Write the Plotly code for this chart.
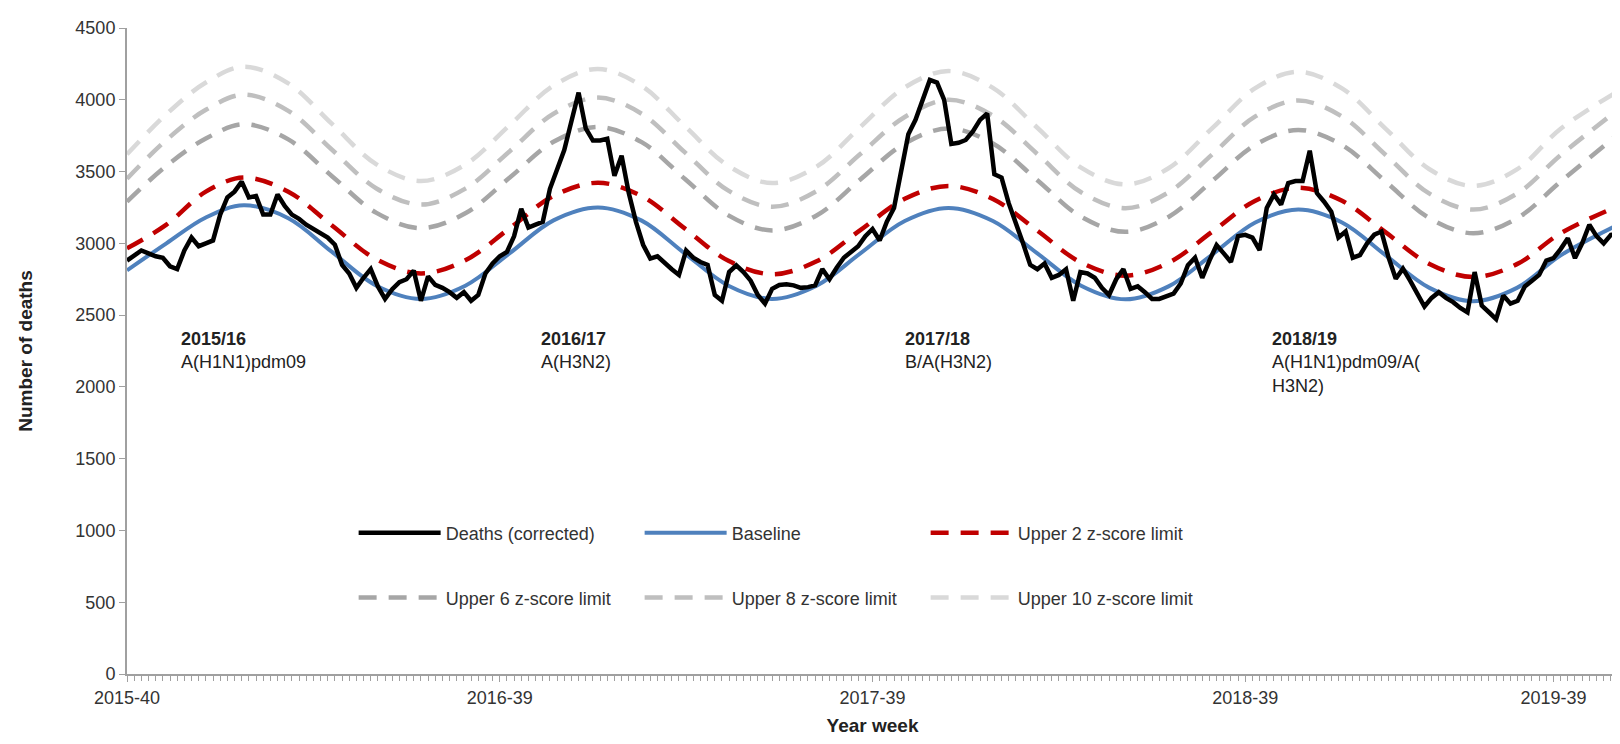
import plotly.graph_objects as go

# weekly deaths, week index 0 = 2015-40
deaths = [
    2880, 2920, 2950, 2930, 2910, 2900, 2840, 2820, 2950, 3040,
    2980, 3000, 3020, 3200, 3320, 3360, 3430, 3320, 3330, 3200,
    3200, 3340, 3260, 3200, 3170, 3130, 3100, 3070, 3040, 2990,
    2850, 2790, 2690, 2760, 2820, 2700, 2613, 2680, 2730, 2750,
    2810, 2600, 2770, 2710, 2690, 2660, 2620, 2660, 2600, 2640,
    2790, 2860, 2910, 2940, 3050, 3240, 3110, 3130, 3150, 3380,
    3520, 3650, 3850, 4050, 3800, 3716, 3716, 3728, 3470, 3610,
    3350, 3150, 2990, 2894, 2910, 2860, 2820, 2780, 2950, 2900,
    2870, 2850, 2640, 2600, 2800, 2847, 2800, 2740, 2640, 2580,
    2683, 2710, 2715, 2707, 2690, 2695, 2707, 2820, 2750, 2830,
    2900, 2940, 2980, 3050, 3100, 3020, 3150, 3246, 3500, 3760,
    3860, 3990, 4138, 4120, 4000, 3692, 3700, 3720, 3780, 3860,
    3904, 3481, 3458, 3280, 3150, 3000, 2850, 2820, 2860, 2760,
    2780, 2820, 2600, 2800, 2790, 2760, 2690, 2640, 2750, 2820,
    2683, 2700, 2660, 2613, 2613, 2630, 2650, 2720, 2847, 2900,
    2760, 2880, 2988, 2930, 2870, 3050, 3059, 3040, 2953, 3246,
    3340, 3270, 3420, 3434, 3434, 3645, 3350, 3290, 3220, 3040,
    3082, 2900, 2918, 3000, 3060, 3082, 2900, 2753, 2824, 2740,
    2650, 2560, 2620, 2660, 2620, 2590, 2550, 2519, 2800, 2566,
    2520, 2472, 2636, 2580, 2600, 2700, 2740, 2780, 2880, 2897,
    2960, 3036, 2897, 3000, 3129, 3050, 3000, 3059, 3060,
]
weeks = list(range(len(deaths)))

# baseline and limits read at these week positions (drawn as splines)
x_smooth = [0, 5.5, 11, 16.3, 22.5, 28.6, 34.8, 41, 47.2, 53.4, 59.5, 65.7,
            71.8, 77.8, 83.9, 90, 96.2, 102.3, 108.5, 114.6, 120.8, 127,
            133.1, 139.3, 145.3, 151.4, 157.4, 163.4, 169.5, 175.6, 181.7,
            187.8, 193.9, 200, 208]
baseline = [2812, 3000, 3180, 3265, 3175, 2940, 2705, 2613, 2705, 2932, 3160, 3250,
            3158, 2930, 2705, 2613, 2705, 2930, 3155, 3246, 3155, 2930, 2705, 2610,
            2700, 2922, 3145, 3235, 3145, 2916, 2690, 2597, 2690, 2916, 3129]
upper2 = [2965, 3130, 3360, 3458, 3360, 3124, 2888, 2790, 2882, 3106, 3330, 3422,
          3329, 3104, 2878, 2785, 2875, 3092, 3310, 3400, 3309, 3088, 2866, 2775,
          2865, 3081, 3297, 3387, 3296, 3076, 2856, 2765, 2855, 3070, 3260]
upper6 = [3290, 3540, 3730, 3830, 3724, 3468, 3212, 3106, 3209, 3458, 3707, 3810,
          3705, 3450, 3195, 3090, 3194, 3445, 3696, 3800, 3695, 3440, 3185, 3080,
          3184, 3435, 3686, 3790, 3685, 3430, 3175, 3070, 3174, 3430, 3760]
upper8 = [3450, 3720, 3930, 4035, 3923, 3652, 3382, 3270, 3381, 3642, 3903, 4015,
          3903, 3635, 3367, 3255, 3364, 3622, 3880, 4000, 3889, 3622, 3356, 3245,
          3355, 3620, 3884, 3995, 3884, 3615, 3346, 3235, 3346, 3615, 3930]
upper10 = [3620, 3900, 4120, 4230, 4114, 3832, 3550, 3434, 3549, 3824, 4099, 4215,
           4096, 3818, 3539, 3420, 3534, 3810, 4086, 4200, 4083, 3805, 3527, 3410,
           3523, 3802, 4081, 4195, 4079, 3798, 3516, 3400, 3515, 3798, 4060]

tick_pos = [0, 52, 104, 156, 199]
tick_text = ["2015-40", "2016-39", "2017-39", "2018-39", "2019-39"]

seasons = ["2015/16", "2016/17", "2017/18", "2018/19"]
strains = ["A(H1N1)pdm09", "A(H3N2)", "B/A(H3N2)", "A(H1N1)pdm09/A(<br>H3N2)"]
label_x = [7.2, 57.5, 108.2, 159.4]

FONT = "Liberation Sans, Arial, sans-serif"

fig = go.Figure()
dash = "18px,12px"
for name, ys, col, lg in [
    ("Upper 10 z-score limit", upper10, "#d9d9d9", "legend2"),
    ("Upper 8 z-score limit", upper8, "#bfbfbf", "legend2"),
    ("Upper 6 z-score limit", upper6, "#a6a6a6", "legend2"),
]:
    fig.add_trace(go.Scatter(x=x_smooth, y=ys, mode="lines", name=name, legend=lg,
                             line=dict(color=col, width=4.5, dash=dash, shape="spline")))
fig.add_trace(go.Scatter(x=x_smooth, y=upper2, mode="lines", name="Upper 2 z-score limit",
                         line=dict(color="#c00000", width=4.5, dash=dash, shape="spline")))
fig.add_trace(go.Scatter(x=x_smooth, y=baseline, mode="lines", name="Baseline",
                         line=dict(color="#4f81bd", width=4, shape="spline")))
fig.add_trace(go.Scatter(x=weeks, y=deaths, mode="lines", name="Deaths (corrected)",
                         line=dict(color="black", width=4.5)))

for sx, s, st in zip(label_x, seasons, strains):
    fig.add_annotation(x=sx, y=2420, xanchor="left", yanchor="top", align="left",
                       text=f"<b>{s}</b><br>{st}", showarrow=False,
                       font=dict(size=18, color="#222", family=FONT))

axis_common = dict(showline=True, linecolor="#a0a0a0", linewidth=2, ticks="outside",
                   tickcolor="#a0a0a0", showgrid=False, zeroline=False,
                   tickfont=dict(size=18, color="#333", family=FONT))
legend_common = dict(orientation="h", x=0.152, xanchor="left", yanchor="middle",
                     traceorder="reversed", entrywidth=189, itemwidth=82,
                     font=dict(size=18, color="#333", family=FONT),
                     bgcolor="rgba(0,0,0,0)")
fig.update_layout(
    width=1620, height=744,
    margin=dict(l=119, r=10, t=20, b=78),
    plot_bgcolor="white", paper_bgcolor="white",
    font=dict(family=FONT, color="#333"),
    xaxis=dict(range=[0, 208], tickvals=tick_pos, ticktext=tick_text, ticklen=6,
               minor=dict(dtick=1, ticks="outside", ticklen=5, tickcolor="#a0a0a0"),
               title=dict(text="<b>Year week</b>", font=dict(size=19, color="#222"), standoff=12),
               **axis_common),
    yaxis=dict(range=[0, 4500], dtick=500, ticklen=6,
               title=dict(text="<b>Number of deaths</b>", font=dict(size=19, color="#222"), standoff=38),
               **axis_common),
    legend=dict(y=0.218, **legend_common),
    legend2=dict(y=0.118, **legend_common),
)
fig.write_html("out.html")
